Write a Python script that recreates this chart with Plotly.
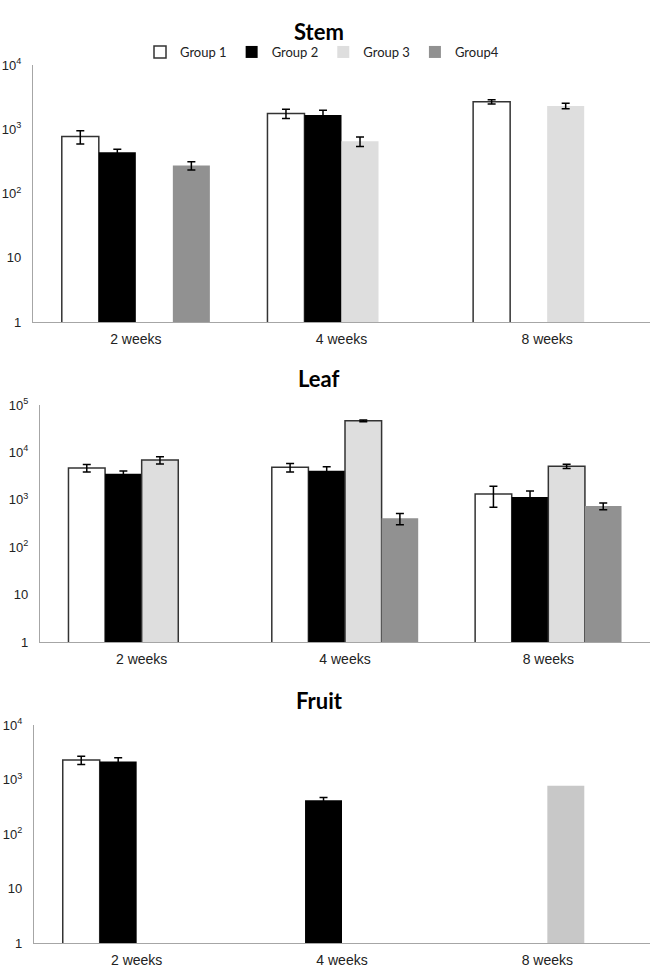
import plotly.graph_objects as go

weeks = ["2 weeks", "4 weeks", "8 weeks"]
groups = ["Group 1", "Group 2", "Group 3", "Group4"]

# Stem
stem_vals = {
    "Group 1": [770, 1760, 2680],
    "Group 2": [440, 1670, None],
    "Group 3": [None, 650, 2310],
    "Group4": [273, None, None],
}
stem_err = {
    "Group 1": [180, 290, 200],
    "Group 2": [50, 300, None],
    "Group 3": [None, 110, 230],
    "Group4": [40, None, None],
}
# Leaf
leaf_vals = {
    "Group 1": [4700, 4850, 1320],
    "Group 2": [3560, 4100, 1140],
    "Group 3": [6900, 46500, 5100],
    "Group4": [None, 407, 740],
}
leaf_err = {
    "Group 1": [850, 1000, 620],
    "Group 2": [500, 900, 400],
    "Group 3": [1200, 2000, 500],
    "Group4": [None, 110, 120],
}
# Fruit
fruit_vals = {
    "Group 1": [2280, None, None],
    "Group 2": [2130, 415, None],
    "Group 3": [None, None, 770],
    "Group4": [None, None, None],
}
fruit_err = {
    "Group 1": [400, None, None],
    "Group 2": [370, 50, None],
    "Group 3": [None, None, None],
    "Group4": [None, None, None],
}

ytick_vals_4 = [1, 10, 100, 1000, 10000]
ytick_text_4 = ["1", "10", "10<sup>2</sup>", "10<sup>3</sup>", "10<sup>4</sup>"]
ytick_vals_5 = [1, 10, 100, 1000, 10000, 100000]
ytick_text_5 = ["1", "10", "10<sup>2</sup>", "10<sup>3</sup>", "10<sup>4</sup>", "10<sup>5</sup>"]

panel_titles = ["Stem", "Leaf", "Fruit"]

panel_styles = [
    {  # stem
        "Group 1": dict(color="white", line=dict(color="#333333", width=1.5)),
        "Group 2": dict(color="black", line=dict(color="black", width=0)),
        "Group 3": dict(color="#dedede", line=dict(width=0)),
        "Group4": dict(color="#919191", line=dict(width=0)),
    },
    {  # leaf
        "Group 1": dict(color="white", line=dict(color="#333333", width=1.5)),
        "Group 2": dict(color="black", line=dict(color="black", width=0)),
        "Group 3": dict(color="#dedede", line=dict(color="#333333", width=1.5)),
        "Group4": dict(color="#919191", line=dict(width=0)),
    },
    {  # fruit
        "Group 1": dict(color="white", line=dict(color="#333333", width=1.5)),
        "Group 2": dict(color="black", line=dict(color="black", width=0)),
        "Group 3": dict(color="#c8c8c8", line=dict(width=0)),
        "Group4": dict(color="#919191", line=dict(width=0)),
    },
]

panels = [(stem_vals, stem_err), (leaf_vals, leaf_err), (fruit_vals, fruit_err)]
axis_ids = ["", "2", "3"]

fig = go.Figure()
for p, (vals, errs) in enumerate(panels):
    for g in groups:
        style = panel_styles[p][g]
        has_err = any(e is not None for e in errs[g])
        fig.add_trace(go.Bar(
            x=weeks, y=vals[g], name=g,
            marker=dict(color=style["color"], line=style["line"]),
            error_y=dict(type="data", array=errs[g], visible=has_err,
                         color="black", thickness=1.5, width=4),
            xaxis="x" + axis_ids[p], yaxis="y" + axis_ids[p],
            showlegend=(p == 0), legendgroup=g,
        ))

H = 968.0
def ydom(top_px, bot_px):
    return [1 - bot_px / H, 1 - top_px / H]

W = 650.0
x_domains = [[33 / W, 1.0], [40 / W, 1.0], [34 / W, 1.0]]
y_domains = [ydom(65, 322), ydom(405, 642), ydom(725, 943)]
y_ranges = [[0, 4], [0, 5], [0, 4]]
y_ticks = [(ytick_vals_4, ytick_text_4), (ytick_vals_5, ytick_text_5), (ytick_vals_4, ytick_text_4)]

layout = dict(
    width=650, height=968,
    margin=dict(l=0, r=0, t=0, b=0),
    paper_bgcolor="white", plot_bgcolor="white",
    barmode="group", bargap=0.28, bargroupgap=0,
    showlegend=True,
    legend=dict(orientation="h", x=322 / W, xanchor="center", y=1 - 52 / H, yanchor="middle",
                font=dict(family="Lato", size=13, color="#222222"),
                itemwidth=30, tracegroupgap=0, bgcolor="rgba(0,0,0,0)"),
    font=dict(family="Liberation Sans", color="#222222"),
)
for p in range(3):
    xa = "xaxis" + axis_ids[p]
    ya = "yaxis" + axis_ids[p]
    layout[xa] = dict(domain=x_domains[p], anchor="y" + axis_ids[p], type="category",
                      showline=True, linecolor="#a6a6a6", linewidth=1.2,
                      ticks="", showgrid=False, zeroline=False,
                      ticklabelstandoff=4,
                      tickfont=dict(family="Liberation Sans", size=14, color="#222222"),
                      automargin=False)
    tv, tt = y_ticks[p]
    layout[ya] = dict(domain=y_domains[p], anchor="x" + axis_ids[p], type="log",
                      range=y_ranges[p], tickvals=tv, ticktext=tt,
                      showline=True, linecolor="#a6a6a6", linewidth=1.2,
                      ticks="", showgrid=False, zeroline=False,
                      ticklabelstandoff=8,
                      tickfont=dict(family="Liberation Sans", size=13, color="#222222"),
                      automargin=False)
fig.update_layout(**layout)

title_y = [31, 379, 700]
for p, t in enumerate(panel_titles):
    fig.add_annotation(text="<b>" + t + "</b>", x=319 / W, xref="paper",
                       y=1 - title_y[p] / H, yref="paper",
                       xanchor="center", yanchor="middle", showarrow=False,
                       font=dict(family="Lato", size=22, color="black"))

fig.write_html("out.html", config={"displayModeBar": False},
               post_script="document.body.style.margin='0';document.body.style.overflow='hidden';")
